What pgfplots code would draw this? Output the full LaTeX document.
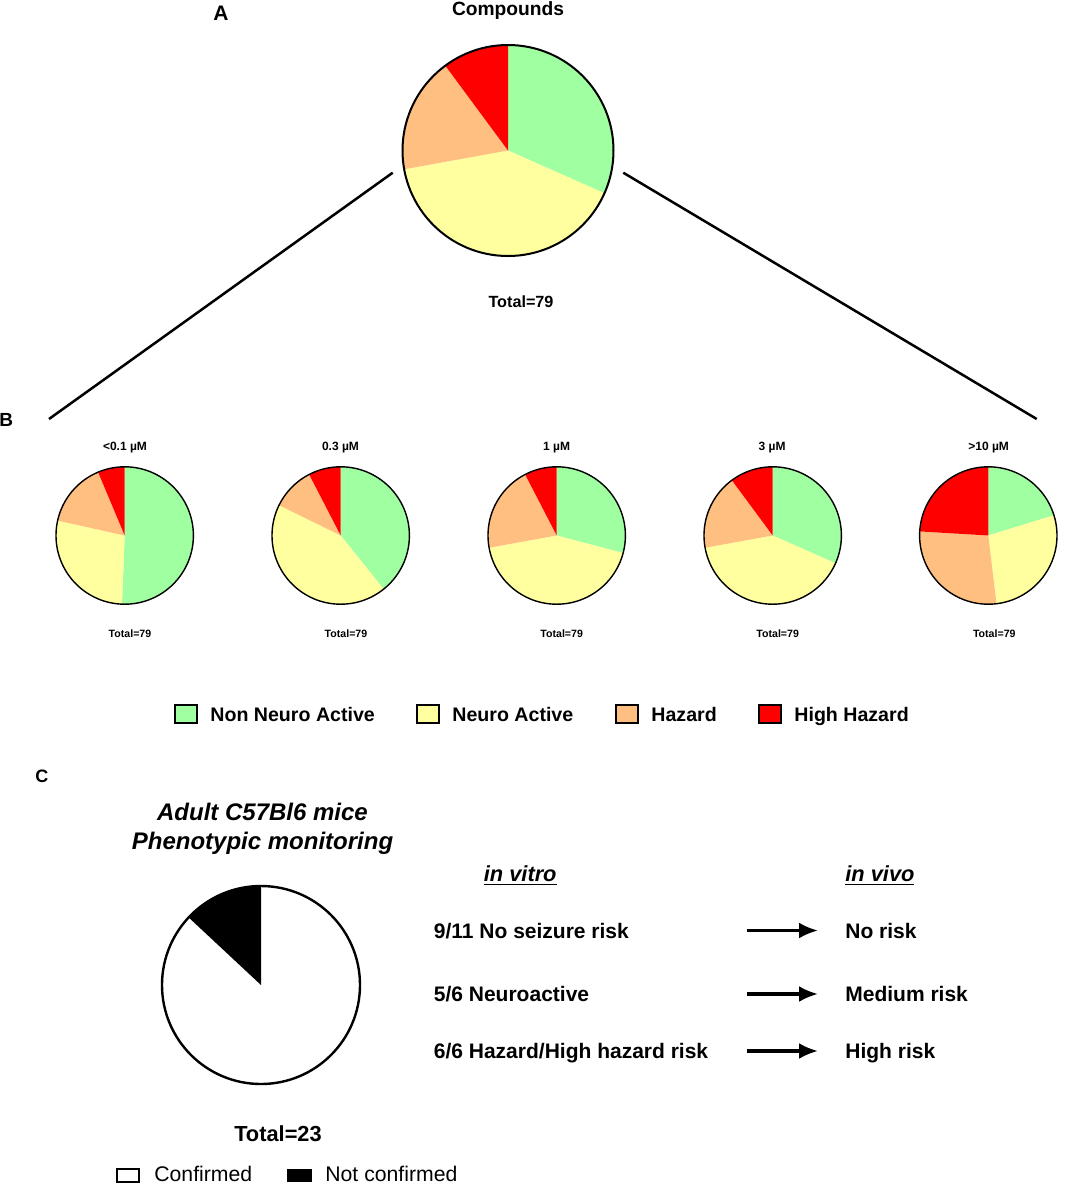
\documentclass[border=0pt]{standalone}
\usepackage{pgfplots}
\pgfplotsset{compat=1.18}
\usepackage{pgfplotstable}
\usepackage{fontspec}
\setmainfont{Liberation Sans}
\usetikzlibrary{arrows.meta}

\definecolor{nna}{HTML}{A0FFA0}
\definecolor{na}{HTML}{FFFFA0}
\definecolor{hz}{HTML}{FFBF80}
\definecolor{hh}{HTML}{FF0000}

% counts per pie (total 79): non neuro active, neuro active, hazard, high hazard
\pgfplotstableread{
set   nna  na  hz  hh
all   25   32  14  8
c01   40   22  12  5
c03   31   34  8   6
c1    23   34  16  6
c3    25   32  14  8
c10   16   22  22  19
}\pietable

% in vivo confirmation (total 23)
\pgfplotstableread{
conf notconf
20   3
}\vivotable

\newcommand\fs[1]{\fontsize{#1}{#1}\selectfont}
\newcommand\slice[4]{\fill[#1] (axis cs:0,0) -- ++(#2:#4) arc[start angle=#2, end angle=#3, radius=#4] -- cycle;}

% #1 row of \pietable, #2 radius, #3 outline width
\newcommand\pierow[3]{%
  \pgfplotstablegetelem{#1}{nna}\of\pietable \let\va\pgfplotsretval
  \pgfplotstablegetelem{#1}{na}\of\pietable \let\vb\pgfplotsretval
  \pgfplotstablegetelem{#1}{hz}\of\pietable \let\vc\pgfplotsretval
  \pgfplotstablegetelem{#1}{hh}\of\pietable \let\vd\pgfplotsretval
  \pgfmathsetmacro\tot{\va+\vb+\vc+\vd}%
  \pgfmathsetmacro\aa{90-\va/\tot*360}%
  \pgfmathsetmacro\ab{\aa-\vb/\tot*360}%
  \pgfmathsetmacro\ac{\ab-\vc/\tot*360}%
  \edef\temp{%
    \noexpand\slice{nna}{90}{\aa}{#2}%
    \noexpand\slice{na}{\aa}{\ab}{#2}%
    \noexpand\slice{hz}{\ab}{\ac}{#2}%
    \noexpand\slice{hh}{\ac}{-270}{#2}%
    \noexpand\draw[line width=#3] (axis cs:0,0) circle[radius=#2];}%
  \temp
}

\pgfplotsset{pie/.style={hide axis, scale only axis, clip=false,
  xmin=-1, xmax=1, ymin=-1, ymax=1, anchor=origin}}

\begin{document}
\begin{tikzpicture}
% panel A
\begin{axis}[pie, width=105.5pt, height=105.5pt, at={(254pt,-75.25pt)}]
  \pierow{0}{52.75pt}{1pt}
\end{axis}
% panel B
\begin{axis}[pie, width=68.7pt, height=68.7pt, at={(62.35pt,-267.75pt)}]
  \pierow{1}{34.35pt}{0.7pt}
\end{axis}
\begin{axis}[pie, width=68.7pt, height=68.7pt, at={(170.35pt,-267.75pt)}]
  \pierow{2}{34.35pt}{0.7pt}
\end{axis}
\begin{axis}[pie, width=68.7pt, height=68.7pt, at={(278.35pt,-267.75pt)}]
  \pierow{3}{34.35pt}{0.7pt}
\end{axis}
\begin{axis}[pie, width=68.7pt, height=68.7pt, at={(386.35pt,-267.75pt)}]
  \pierow{4}{34.35pt}{0.7pt}
\end{axis}
\begin{axis}[pie, width=68.7pt, height=68.7pt, at={(494.15pt,-267.75pt)}]
  \pierow{5}{34.35pt}{0.7pt}
\end{axis}
% panel C
\begin{axis}[pie, width=99pt, height=99pt, at={(130.5pt,-492.5pt)}]
  \pgfplotstablegetelem{0}{conf}\of\vivotable \let\va\pgfplotsretval
  \pgfplotstablegetelem{0}{notconf}\of\vivotable \let\vb\pgfplotsretval
  \pgfmathsetmacro\aa{90-\va/(\va+\vb)*360}
  \edef\temp{%
    \noexpand\slice{white}{90}{\aa}{49.5pt}%
    \noexpand\slice{black}{\aa}{-270}{49.5pt}%
    \noexpand\draw[line width=1.2pt] (axis cs:0,0) circle[radius=49.5pt];}%
  \temp
\end{axis}

\begin{scope}[x=0.5pt, y=-0.5pt]
\path[use as bounding box] (0,0) rectangle (1065,1185);
\draw[line width=1.25pt] (392.7,172.7) -- (49,419);
\draw[line width=1.25pt] (623.3,172.7) -- (1036.7,419);

\node[anchor=base, inner sep=0, font=\fs{10.5}\bfseries] at (221,20) {A};
\node[anchor=base, inner sep=0, font=\fs{9.6}\bfseries] at (508,15) {Compounds};
\node[anchor=base, inner sep=0, font=\fs{8.1}\bfseries] at (521,307) {Total=79};
\node[anchor=base west, inner sep=0, font=\fs{9.5}\bfseries] at (-1,426) {B};

\foreach \x/\t in {125/{<0.1 µM}, 340.5/{0.3 µM}, 556.7/{1 µM}, 772.2/{3 µM}, 988.7/{>10 µM}}
  \node[anchor=base, inner sep=0, font=\fs{6}\bfseries] at (\x,450) {\t};
\foreach \x in {130, 346, 561.7, 777.7, 994.3}
  \node[anchor=base, inner sep=0, font=\fs{5.3}\bfseries] at (\x,637.5) {Total=79};

% legend
\foreach \x/\c/\t in {175/nna/Non Neuro Active, 417/na/Neuro Active, 616/hz/Hazard, 759/hh/High Hazard}{
  \draw[fill=\c, line width=0.75pt] (\x,705) rectangle ++(22,18);
  \node[anchor=base west, inner sep=0, font=\fs{9.8}\bfseries] at (\x+35,721) {\t};
}

\node[anchor=base west, inner sep=0, font=\fs{9}\bfseries] at (35,782) {C};
\node[anchor=base, inner sep=0, font=\fs{12}\bfseries\itshape] at (262.5,820) {Adult C57Bl6 mice};
\node[anchor=base, inner sep=0, font=\fs{12}\bfseries\itshape] at (262.5,849.3) {Phenotypic monitoring};
\node[anchor=base, inner sep=0, font=\fs{10.9}\bfseries] at (278,1141.7) {Total=23};

\draw[line width=0.75pt] (117,1169) rectangle (139,1182);
\node[anchor=base west, inner sep=0, font=\fs{10.6}] at (154,1181.5) {Confirmed};
\fill[black] (287,1169) rectangle (312,1182);
\node[anchor=base west, inner sep=0, font=\fs{10.6}] at (325,1181.5) {Not confirmed};

\node[anchor=base west, inner sep=0, font=\fs{10.9}\bfseries\itshape] at (483.5,881) {\underline{in vitro}};
\node[anchor=base west, inner sep=0, font=\fs{10.9}\bfseries\itshape] at (845,881) {\underline{in vivo}};
\foreach \y/\l/\r in {930.5/{9/11 No seizure risk}/{No risk}, 994/{5/6 Neuroactive}/{Medium risk}, 1051/{6/6 Hazard/High hazard risk}/{High risk}}{
  \node[anchor=base west, inner sep=0, font=\fs{10.5}\bfseries] at (433.5,\y+7.5) {\l};
  \node[anchor=base west, inner sep=0, font=\fs{10.5}\bfseries] at (845,\y+7.5) {\r};
  \draw[line width=1.6pt, -{Latex[length=9.5pt, width=8pt]}] (746.7,\y) -- (818,\y);
}
\end{scope}
\end{tikzpicture}
\end{document}
